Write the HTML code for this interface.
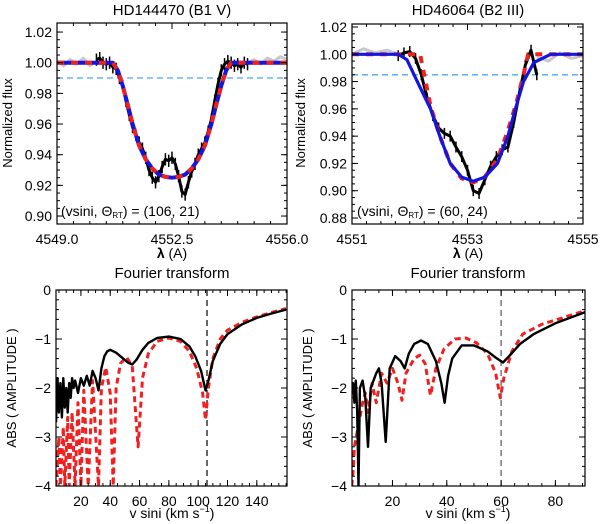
<!DOCTYPE html>
<html><head><meta charset="utf-8"><style>
html,body{margin:0;padding:0;background:#fff}
svg{display:block;font-family:"Liberation Sans","DejaVu Sans",sans-serif}
</style></head><body>
<svg id="fig" width="600" height="524" viewBox="0 0 600 524" xmlns="http://www.w3.org/2000/svg"></svg>
<script>
// ---- Panel A: HD144470 line profile ----
const aModelLam=[4549,4550.7,4550.85,4551.0,4551.15,4551.3,4551.5,4551.7,4551.9,4552.1,4552.3,4552.5,4552.7,4552.9,4553.1,4553.3,4553.5,4553.7,4553.85,4554.0,4554.15,4554.3,4556];
const aModelFlux=[1,1,0.995,0.985,0.973,0.96,0.946,0.937,0.931,0.927,0.9255,0.925,0.9255,0.927,0.931,0.937,0.946,0.96,0.973,0.985,0.995,1,1];
const aObsStart=4550.2, aObsStep=0.1;
const aObsFlux=[1.002,1.003,1.000,0.999,1.000,0.997,0.996,0.990,0.985,0.975,0.966,0.958,0.953,0.948,0.944,0.938,0.930,0.925,0.922,0.926,0.932,0.937,0.936,0.938,0.934,0.926,0.916,0.914,0.922,0.929,0.934,0.940,0.944,0.948,0.955,0.963,0.975,0.986,0.995,0.999,1.001,1.000,0.998,0.999,0.997,1.000,0.999];
const aGrayLamL=[4549,4549.2,4549.4,4549.6,4549.8,4550.0,4550.2];
const aGrayFluxL=[1.001,0.998,1.002,0.999,1.003,0.998,1.001];
const aGrayLamR=[4554.8,4555.0,4555.2,4555.4,4555.6,4555.8,4556];
const aGrayFluxR=[1.000,1.002,0.999,1.003,1.001,1.004,1.002];
const aThreshold=0.990;
// ---- Panel B: HD46064 line profile ----
const bBlueLam=[4551,4551.8,4551.95,4552.13,4552.36,4552.52,4552.7,4552.9,4553.1,4553.3,4553.52,4553.7,4553.83,4553.97,4554.15,4554.44,4555];
const bBlueFlux=[1,1,0.996,0.98,0.96,0.94,0.92,0.91,0.907,0.91,0.92,0.94,0.96,0.98,0.994,1,1];
const bRedLam=[4551,4552.18,4552.25,4552.36,4552.52,4552.7,4552.9,4553.1,4553.3,4553.52,4553.7,4553.85,4553.97,4554.05,4555];
const bRedFlux=[1,1,0.985,0.962,0.94,0.92,0.909,0.906,0.910,0.923,0.944,0.965,0.985,1,1];
const bObsStart=4551.8, bObsStep=0.1;
const bObsFlux=[0.999,1.001,1.002,0.997,0.985,0.968,0.955,0.946,0.942,0.940,0.932,0.925,0.915,0.900,0.898,0.908,0.918,0.925,0.930,0.932,0.950,0.972,0.992,1.003,0.985];
const bGrayLamL=[4551,4551.2,4551.4,4551.6,4551.8];
const bGrayFluxL=[1.000,1.004,1.001,1.003,1.000];
const bGrayLamR=[4554.2,4554.4,4554.6,4554.8,4555];
const bGrayFluxR=[0.998,0.995,1.001,0.997,0.999];
const bThreshold=0.985;
// ---- Panel C: Fourier HD144470 ----
const cBlackV=[3,4,5,6,7,8,9,10,11,12,13,14,15,16,18,20,22,24,26,28,30,32,34,36,38,40,44,48,52,55,58,62,66,72,80,88,94,98,102,105,107,110,115,120,130,140,150,160];
const cBlackA=[-2.7,-1.8,-2.5,-1.9,-2.6,-1.8,-2.4,-2.0,-2.5,-1.9,-2.2,-1.8,-2.0,-1.85,-2.1,-1.8,-1.95,-1.75,-1.95,-1.65,-1.8,-2.05,-1.6,-1.35,-1.25,-1.22,-1.28,-1.38,-1.48,-1.52,-1.42,-1.22,-1.08,-0.98,-0.95,-1.0,-1.15,-1.35,-1.65,-2.05,-1.85,-1.45,-1.1,-0.9,-0.7,-0.57,-0.48,-0.4];
const cRedV=[3,5,6,8,9,11,12,14,16,18,20,22,25,28,32,34,37,40,42,44,47,51,55,59,62,66,72,80,88,94,99,103,105,107,110,115,120,130,140,150,160];
const cRedA=[-4,-3,-4,-2.8,-4,-2.6,-4,-2.5,-4,-2.3,-4,-2.05,-4,-1.85,-4,-2.0,-1.58,-2.1,-4,-2.0,-1.5,-1.37,-1.55,-3.2,-1.8,-1.3,-1.05,-0.98,-1.05,-1.25,-1.6,-2.1,-2.65,-2.0,-1.4,-1.0,-0.82,-0.66,-0.55,-0.46,-0.38];
const cVsini=106;
// ---- Panel D: Fourier HD46064 ----
const dBlackV=[5,5.5,6,6.5,7,7.5,8,9,10,11,12,13,14,15,16,17.5,19,21,23,24.5,26,28,30.5,33,36,38,39.2,40.5,42,45.5,50,55,58,60.7,63,67,72,80,91];
const dBlackA=[-2.0,-1.9,-2.3,-1.85,-2.5,-4,-2.0,-1.85,-2.2,-3.2,-2.0,-1.85,-1.7,-1.6,-1.9,-3.1,-1.6,-1.35,-1.45,-1.6,-1.3,-1.1,-1.03,-1.1,-1.45,-1.9,-2.3,-1.75,-1.4,-1.13,-1.13,-1.25,-1.38,-1.48,-1.35,-1.1,-0.9,-0.68,-0.45];
const dRedV=[5,5.5,6,7,8,9,10,11,12.5,14,16,18,20,22,23.5,25,28,30,32,34,36,39,43,47,51,55,58,59.7,61,64,68,75,82,91];
const dRedA=[-4,-3.7,-3.2,-2.9,-2.6,-2.3,-2.1,-2.5,-1.9,-2.3,-1.7,-1.9,-1.6,-1.9,-2.25,-1.7,-1.4,-1.33,-1.5,-2.15,-1.6,-1.2,-1.0,-0.98,-1.08,-1.3,-1.7,-2.2,-1.8,-1.25,-0.9,-0.7,-0.58,-0.42];
const dVsini=60;

const NS='http://www.w3.org/2000/svg';
const svg=document.getElementById('fig');
function mk(tag,attrs,parent){const e=document.createElementNS(NS,tag);for(const k in attrs)e.setAttribute(k,attrs[k]);(parent||svg).appendChild(e);return e;}
function txt(s,x,y,size,anchor,parent){const t=mk('text',{x:x,y:y,'font-size':size,'text-anchor':anchor||'middle',fill:'#000'},parent);t.textContent=s;return t;}

function panel(id,box,xr,yr,opt){
  const g=mk('g',{});
  
  
  const sx=v=>box.x0+(v-xr[0])/(xr[1]-xr[0])*(box.x1-box.x0);
  const sy=v=>box.y1-(v-yr[0])/(yr[1]-yr[0])*(box.y1-box.y0);
  const cp=mk('clipPath',{id:'clip-'+id},g);
  mk('rect',{x:box.x0,y:box.y0,width:box.x1-box.x0,height:box.y1-box.y0},cp);
  const plot=mk('g',{'clip-path':'url(#clip-'+id+')'},g);
  
  
  const fr=mk('rect',{x:box.x0,y:box.y0,width:box.x1-box.x0,height:box.y1-box.y0,fill:'none',stroke:'#000','stroke-width':1.2},g);
  
  
  const tg=mk('g',{stroke:'#000','stroke-width':1},g);
  
  
  opt.xMinor.forEach(v=>{const X=sx(v);mk('line',{x1:X,x2:X,y1:box.y1,y2:box.y1-3},tg);mk('line',{x1:X,x2:X,y1:box.y0,y2:box.y0+3},tg);});
  opt.xMajor.forEach(v=>{const X=sx(v);mk('line',{x1:X,x2:X,y1:box.y1,y2:box.y1-6},tg);mk('line',{x1:X,x2:X,y1:box.y0,y2:box.y0+6},tg);});
  opt.yMinor.forEach(v=>{const Y=sy(v);mk('line',{x1:box.x0,x2:box.x0+3,y1:Y,y2:Y},tg);mk('line',{x1:box.x1,x2:box.x1-3,y1:Y,y2:Y},tg);});
  opt.yMajor.forEach(v=>{const Y=sy(v);mk('line',{x1:box.x0,x2:box.x0+6,y1:Y,y2:Y},tg);mk('line',{x1:box.x1,x2:box.x1-6,y1:Y,y2:Y},tg);});
  const lg=mk('g',{},g);
  
  
  opt.xMajor.forEach((v,i)=>txt(opt.xLab[i],sx(v),box.y1+20,14,'middle',lg));
  opt.yMajor.forEach((v,i)=>txt(opt.yLab[i],box.x0-5,sy(v)+5,14,'end',lg));
  return {g,plot,sx,sy};
}
function line(p,xs,ys,attrs,name){
  const pts=xs.map((x,i)=>p.sx(x).toFixed(1)+','+p.sy(ys[i]).toFixed(1)).join(' ');
  const e=mk('polyline',Object.assign({points:pts,fill:'none','stroke-linejoin':'round'},attrs),p.plot);
  
  
  return e;
}
function range(a,b,s){const r=[];for(let v=a;v<=b+1e-9;v+=s)r.push(+v.toFixed(4));return r;}
function obs(p,start,step,vals,name){
  const xs=vals.map((_,i)=>start+i*step);
  const g=mk('g',{stroke:'#000','stroke-width':1.5},p.plot);
  
  
  xs.forEach((x,i)=>{mk('line',{x1:p.sx(x),x2:p.sx(x),y1:p.sy(vals[i]+0.004),y2:p.sy(vals[i]-0.004)},g);});
  line(p,xs,vals,{stroke:'#000','stroke-width':3},name);
}
function title(s,x,y,name){const t=txt(s,x,y,15,'middle');return t;}
function ytitle(s,x,y,name){const t=mk('text',{x:0,y:0,'font-size':13,'text-anchor':'middle',transform:`translate(${x},${y}) rotate(-90)`});t.textContent=s;return t;}

// Panel A
const pA=panel('profile-hd144470',{x0:57,x1:287,y0:23,y1:224},[4549,4556],[0.8948,1.0259],
 {xMajor:[4549,4552.5,4556],xLab:['4549.0','4552.5','4556.0'],xMinor:range(4549,4556,0.5),
  yMajor:[0.90,0.92,0.94,0.96,0.98,1.00,1.02],yLab:['0.90','0.92','0.94','0.96','0.98','1.00','1.02'],yMinor:range(0.90,1.02,0.005)});
line(pA,aGrayLamL,aGrayFluxL,{stroke:'#c8c8c8','stroke-width':3},'gray-spectrum-a-left');
line(pA,aGrayLamR,aGrayFluxR,{stroke:'#c8c8c8','stroke-width':3},'gray-spectrum-a-right');
line(pA,[4549,4556],[aThreshold,aThreshold],{stroke:'#4aa8e8','stroke-width':1.3,'stroke-dasharray':'6,4'},'threshold-line-a');
obs(pA,aObsStart,aObsStep,aObsFlux,'observed-profile-a');
line(pA,aModelLam,aModelFlux,{stroke:'#1515e0','stroke-width':4},'blue-model-a');
line(pA,aModelLam,aModelFlux,{stroke:'#f02020','stroke-width':4,'stroke-dasharray':'7,7'},'red-model-a');
title('HD144470 (B1 V)',172,15,'title-hd144470');
ytitle('Normalized flux',12,123,'y-axis-title-a');
{const t=mk('text',{x:172,y:258,'font-size':14,'text-anchor':'middle'});t.innerHTML='<tspan font-weight="bold">λ</tspan> (A)';}
{const t=mk('text',{x:61,y:216,'font-size':14});t.innerHTML='(vsini, Θ<tspan font-size="8" dy="2">RT</tspan><tspan dy="-2">) = (106, 21)</tspan>';}

// Panel B
const pB=panel('profile-hd46064',{x0:352,x1:583,y0:24,y1:224},[4551,4555],[0.8756,1.0222],
 {xMajor:[4551,4553,4555],xLab:['4551','4553','4555'],xMinor:range(4551,4555,0.25),
  yMajor:[0.88,0.90,0.92,0.94,0.96,0.98,1.00,1.02],yLab:['0.88','0.90','0.92','0.94','0.96','0.98','1.00','1.02'],yMinor:range(0.88,1.02,0.005)});
line(pB,bGrayLamL,bGrayFluxL,{stroke:'#c8c8c8','stroke-width':3},'gray-spectrum-b-left');
line(pB,bGrayLamR,bGrayFluxR,{stroke:'#c8c8c8','stroke-width':3},'gray-spectrum-b-right');
line(pB,[4551,4555],[bThreshold,bThreshold],{stroke:'#4aa8e8','stroke-width':1.3,'stroke-dasharray':'6,4'},'threshold-line-b');
obs(pB,bObsStart,bObsStep,bObsFlux,'observed-profile-b');
line(pB,bRedLam,bRedFlux,{stroke:'#f02020','stroke-width':4,'stroke-dasharray':'7,7'},'red-model-b');
line(pB,bBlueLam,bBlueFlux,{stroke:'#1515e0','stroke-width':3.2},'blue-model-b');
title('HD46064 (B2 III)',468,15,'title-hd46064');
ytitle('Normalized flux',305,123,'y-axis-title-b');
{const t=mk('text',{x:468,y:258,'font-size':14,'text-anchor':'middle'});t.innerHTML='<tspan font-weight="bold">λ</tspan> (A)';}
{const t=mk('text',{x:357,y:216,'font-size':14});t.innerHTML='(vsini, Θ<tspan font-size="8" dy="2">RT</tspan><tspan dy="-2">) = (60, 24)</tspan>';}

// Panel C
const pC=panel('fourier-hd144470',{x0:56,x1:287,y0:290,y1:486},[3,160.6],[-4,0.0],
 {xMajor:[20,40,60,80,100,120,140],xLab:['20','40','60','80','100','120','140'],xMinor:range(5,160,5),
  yMajor:[-4,-3,-2,-1,0],yLab:['−4','−3','−2','−1','0'],yMinor:range(-4,0,0.2)});
line(pC,[cVsini,cVsini],[-4,0],{stroke:'#000','stroke-width':1.2,'stroke-dasharray':'6,4'},'vsini-marker-c');
line(pC,cRedV,cRedA,{stroke:'#f02020','stroke-width':3,'stroke-dasharray':'6,4'},'red-fourier-c');
line(pC,cBlackV,cBlackA,{stroke:'#000','stroke-width':2.4},'black-fourier-c');
title('Fourier transform',172,278,'title-fourier-a');
ytitle('ABS ( AMPLITUDE )',16,388,'y-axis-title-c');
{const t=mk('text',{x:172,y:518,'font-size':14,'text-anchor':'middle'});t.innerHTML='v sini (km s<tspan font-size="9" dy="-6">−1</tspan><tspan dy="6">)</tspan>';}

// Panel D
const pD=panel('fourier-hd46064',{x0:352,x1:585,y0:290,y1:486},[5.1,90.9],[-4,0.0],
 {xMajor:[20,40,60,80],xLab:['20','40','60','80'],xMinor:range(10,90,5),
  yMajor:[-4,-3,-2,-1,0],yLab:['−4','−3','−2','−1','0'],yMinor:range(-4,0,0.2)});
line(pD,[dVsini,dVsini],[-4,0],{stroke:'#555','stroke-width':1.2,'stroke-dasharray':'6,4'},'vsini-marker-d');
line(pD,dRedV,dRedA,{stroke:'#f02020','stroke-width':3,'stroke-dasharray':'6,4'},'red-fourier-d');
line(pD,dBlackV,dBlackA,{stroke:'#000','stroke-width':2.4},'black-fourier-d');
title('Fourier transform',468,278,'title-fourier-b');
ytitle('ABS ( AMPLITUDE )',312,388,'y-axis-title-d');
{const t=mk('text',{x:468,y:518,'font-size':14,'text-anchor':'middle'});t.innerHTML='v sini (km s<tspan font-size="9" dy="-6">−1</tspan><tspan dy="6">)</tspan>';}
</script>
</body></html>
